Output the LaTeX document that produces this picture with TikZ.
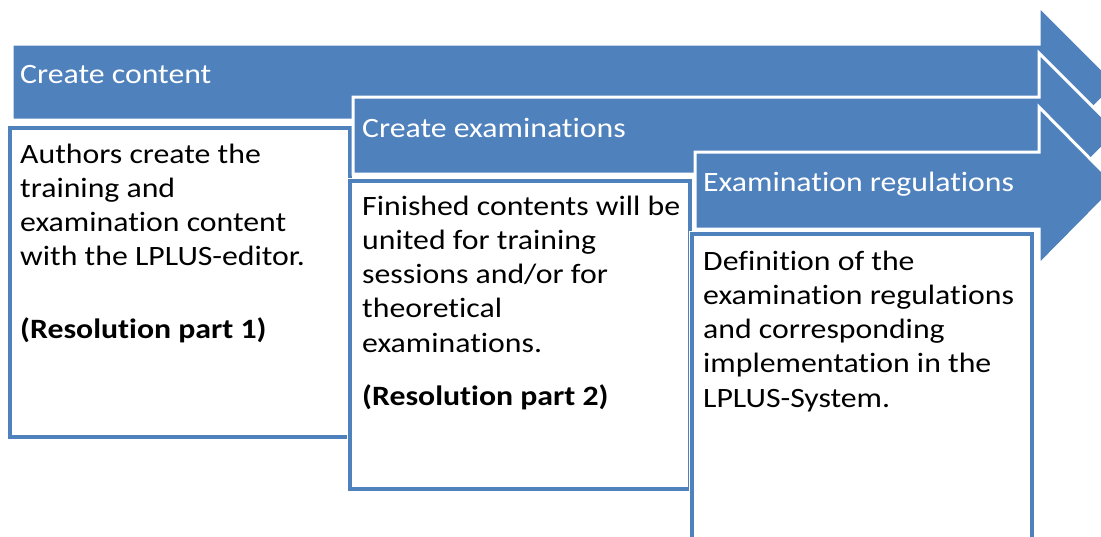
\documentclass[tikz,border=0pt]{standalone}
\usepackage{fontspec}
\setmainfont{Carlito}[FakeStretch=1.135, Ligatures=NoCommon]
\definecolor{lpblue}{HTML}{4F81BD}
\tikzset{
  arrowshape/.style={fill=lpblue, draw=white, line width=3pt, line join=miter},
  boxshape/.style={fill=white, draw=lpblue, line width=4pt, anchor=north west,
    inner sep=0pt, outer sep=0pt, preaction={draw=white, line width=6.5pt}},
  headtext/.style={anchor=base west, inner sep=0pt, text=white,
    font=\fontsize{28}{34.3}\selectfont},
  bodytext/.style={anchor=base west, inner sep=0pt, text=black,
    font=\fontsize{28}{34.3}\selectfont}
}
\newcommand{\boxpar}[1]{\parbox[t]{330pt}{\raggedright #1}}
\begin{document}
\begin{tikzpicture}[x=1pt,y=-1pt]
\useasboundingbox (0,0) rectangle (1101,536);
\clip (0,0) rectangle (1101,536);
% arrow 1
\draw[arrowshape] (12,44) -- (1039,44) -- (1039,6) -- (1117,84) -- (1039,162)
  -- (1039,120) -- (12,120) -- cycle;
\node[headtext] (h1) at (20,83) {Create content};
% box 1
\node[boxshape, minimum width=340pt, minimum height=309pt] (box1) at (10,128) {};
\node[bodytext] (t1) at (20,163) {\boxpar{Authors create the\\ training and\\ examination content\\ with the LPLUS-editor.\\[38.7pt] \textbf{(Resolution part 1)}}};
% arrow 2
\draw[arrowshape] (353,97) -- (1039,97) -- (1039,53) -- (1118,132) -- (1039,211)
  -- (1039,174) -- (353,174) -- cycle;
\node[headtext] (h2) at (362,137) {Create examinations};
% box 2
\node[boxshape, minimum width=340pt, minimum height=308pt] (box2) at (350,181) {};
\node[bodytext] (t2) at (362,215) {\boxpar{Finished contents will be\\ united for training\\ sessions and/or for\\ theoretical\\ examinations.\\[18.7pt] \textbf{(Resolution part 2)}}};
% arrow 3
\draw[arrowshape] (695,152) -- (1039,152) -- (1039,107) -- (1117,186) -- (1039,265)
  -- (1039,229) -- (695,229) -- cycle;
\node[headtext] (h3) at (703,191) {Examination regulations};
% box 3
\node[boxshape, minimum width=340pt, minimum height=340pt] (box3) at (692,234) {};
\node[bodytext] (t3) at (703,270) {\boxpar{Definition of the\\ examination regulations\\ and corresponding\\ implementation in the\\ LPLUS-System.}};
\end{tikzpicture}
\end{document}
